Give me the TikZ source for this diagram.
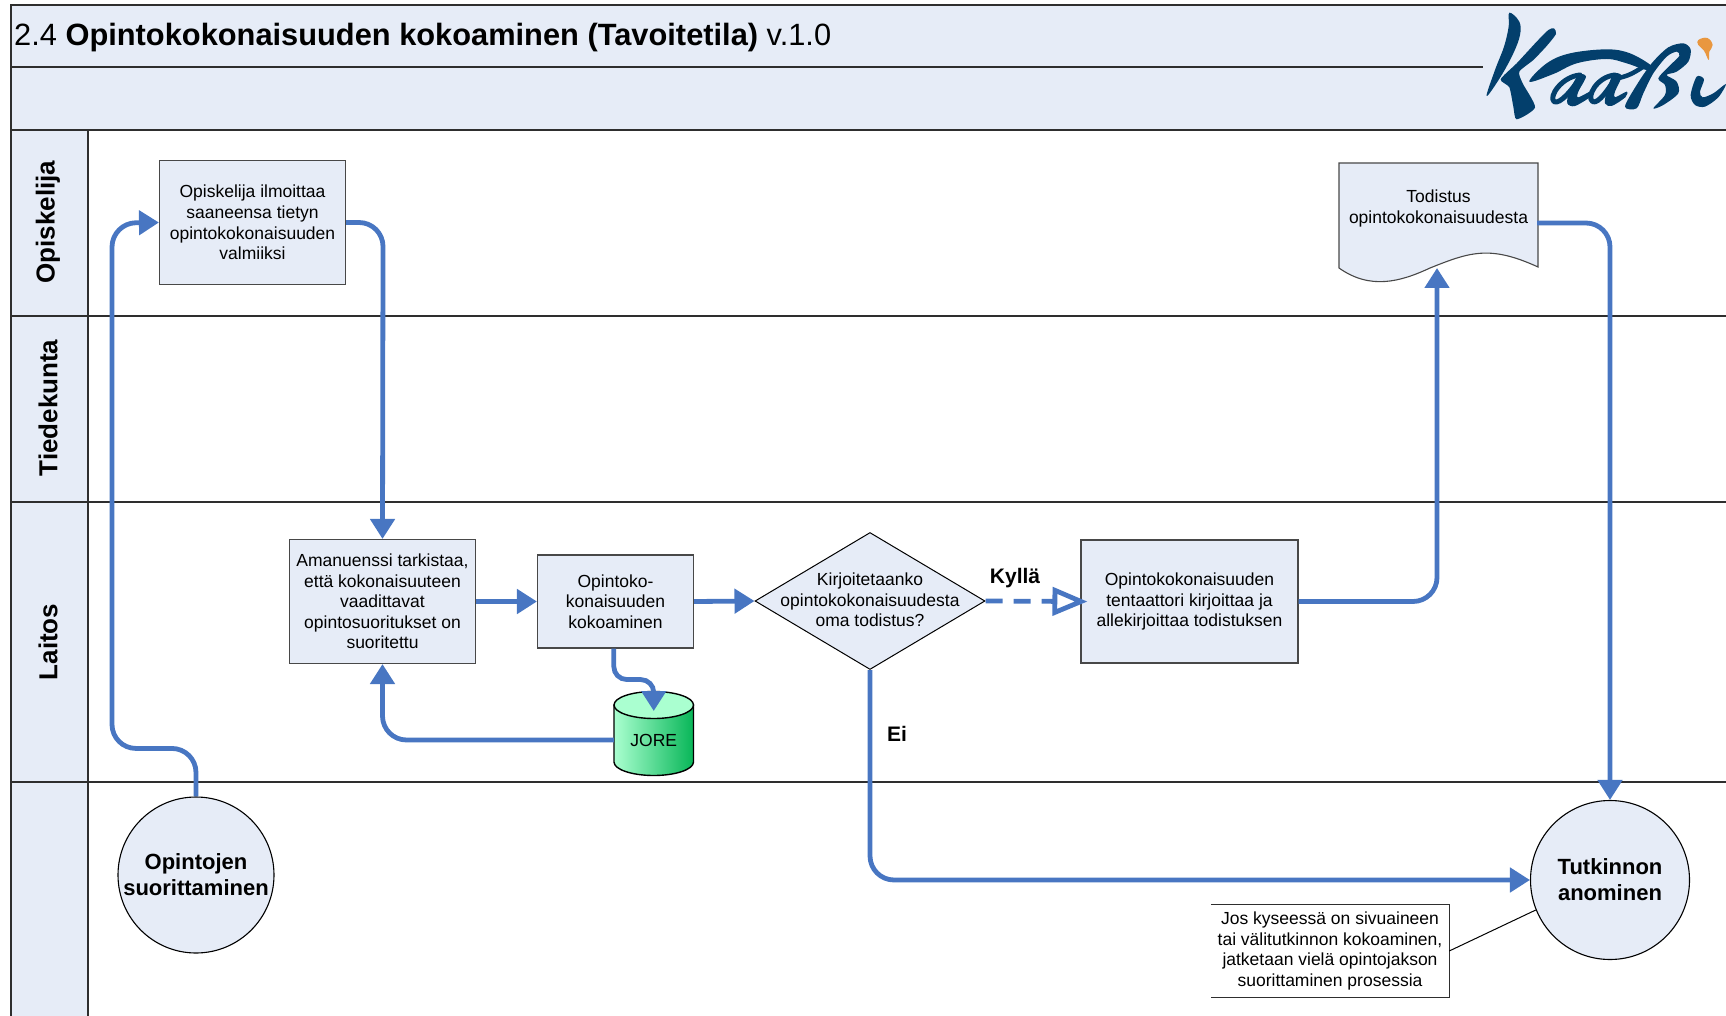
\documentclass[tikz,border=0pt]{standalone}
\usepackage{fontspec}
\setmainfont{Liberation Sans}
\usetikzlibrary{arrows.meta,shapes.geometric,calc}
\definecolor{paneFill}{HTML}{E6ECF7}
\definecolor{lineDark}{HTML}{2E2E2E}
\definecolor{boxEdge}{HTML}{484848}
\definecolor{flowBlue}{HTML}{4876C2}
\definecolor{logoBlue}{HTML}{033F6C}
\definecolor{logoOrange}{HTML}{E9973F}
\definecolor{cylLight}{HTML}{AAFFD0}
\definecolor{cylDark}{HTML}{08B658}
\tikzset{
  x=1pt,y=-1pt,
  lane/.style={draw=lineDark,line width=1.5pt},
  pane/.style={fill=paneFill,draw=none},
  procbox/.style={draw=boxEdge,fill=paneFill,line width=1.1pt,rectangle,inner sep=0pt,align=center,font=\fontsize{17.5}{20.6}\selectfont},
  plaintxt/.style={inner sep=0pt,align=center,font=\fontsize{17.5}{20.6}\selectfont},
  decision/.style={draw=black,fill=paneFill,line width=1pt,diamond,inner sep=0pt,align=center,font=\fontsize{17.5}{20.6}\selectfont},
  terminal/.style={draw=black,fill=paneFill,line width=1.1pt,circle,inner sep=0pt,minimum size=156pt,align=center,font=\fontsize{22}{26}\selectfont\bfseries},
  lanelabel/.style={rotate=90,inner sep=0pt,font=\fontsize{26}{30}\selectfont\bfseries},
  flow/.style={draw=flowBlue,line width=4.8pt,rounded corners=24pt,-{Triangle[length=20pt,width=24pt]}},
  flowtight/.style={flow,rounded corners=13pt},
  flowopen/.style={draw=flowBlue,line width=4.8pt,dash pattern=on 17pt off 11pt,shorten >=-7pt,-{Triangle[open,length=35pt,width=28pt,line width=4.8pt,sep=0pt]}},
  branchlabel/.style={inner sep=0pt,font=\fontsize{21}{25}\selectfont\bfseries},
  logostroke/.style={draw=logoBlue,line cap=round,line join=round}
}
\begin{document}
\begin{tikzpicture}
\useasboundingbox (0,0) rectangle (1726,1016);
\begin{scope}
\clip (0,0) rectangle (1726,1016);
% panes
\fill[pane] (11,5) rectangle (1726,130);
\fill[pane] (11,130) rectangle (88,1016);
% lane rules
\draw[lane] (1726,5) -- (11,5) -- (11,1016);
\draw[lane] (11,130) -- (1726,130);
\draw[lane] (11,316) -- (1726,316);
\draw[lane] (11,502) -- (1726,502);
\draw[lane] (11,782) -- (1726,782);
\draw[lane] (88,130) -- (88,1016);
\draw[draw=lineDark,line width=1.1pt] (11,67) -- (1483,67);
\end{scope}
% title
\node[anchor=base west,inner sep=0pt,font=\fontsize{30.8}{34}\selectfont] (title) at (14,46) {2.4 \textbf{Opintokokonaisuuden kokoaminen (Tavoitetila)} v.1.0};
% lane labels
\node[lanelabel] (l1) at (48,222) {Opiskelija};
\node[lanelabel] (l2) at (48,408) {Tiedekunta};
\node[lanelabel] (l3) at (48,642) {Laitos};
% logo
\begin{scope}[shift={(1480,10)},x=0.3333pt,y=-0.3333pt]
\fill[logoBlue] plot[smooth cycle,tension=0.6] coordinates {(88,8)(118,35)(120,75)(100,130)(62,200)(20,258)(45,180)(72,110)(86,50)};
\fill[logoBlue] plot[smooth cycle,tension=0.4] coordinates {(222,55)(228,72)(200,108)(160,150)(118,185)(128,220)(165,292)(110,328)(100,290)(88,232)(62,208)(110,160)(170,95)(205,60)};
\fill[logoBlue] plot[smooth cycle,tension=0.6] coordinates {(148,215)(200,160)(270,130)(380,118)(450,130)(515,168)(500,180)(440,160)(380,147)(290,160)(220,192)};
% first a
\draw[logostroke,line width=5pt] (300,195) .. controls (245,200) and (205,260) .. (222,275) .. controls (240,285) and (280,235) .. (302,200);
\fill[logoBlue] plot[smooth cycle,tension=0.5] coordinates {(295,195)(318,200)(295,245)(295,262)(340,240)(335,258)(285,288)(262,280)(268,245)};
% second a
\draw[logostroke,line width=5pt] (405,195) .. controls (350,200) and (318,262) .. (338,275) .. controls (355,283) and (388,235) .. (408,200);
\fill[logoBlue] plot[smooth cycle,tension=0.5] coordinates {(400,192)(425,198)(405,245)(405,262)(440,245)(436,262)(395,288)(375,280)(380,245)};
\draw[logostroke,line width=4.5pt] (410,205) .. controls (440,200) and (460,190) .. (490,170);
% r
\fill[logoBlue] plot[smooth cycle,tension=0.5] coordinates {(435,290)(470,225)(515,160)(565,112)(610,100)(632,118)(625,155)(590,185)(560,195)(590,215)(595,250)(550,285)(520,295)(555,255)(555,225)(535,205)(568,168)(598,138)(590,125)(560,140)(520,190)(490,250)(470,295)};
% i
\fill[logoBlue] plot[smooth cycle,tension=0.5] coordinates {(650,200)(672,208)(660,245)(668,262)(700,250)(738,222)(715,262)(675,290)(645,285)(632,255)};
\fill[logoOrange] plot[smooth cycle,tension=0.7] coordinates {(655,90)(682,84)(698,105)(688,125)(686,150)(672,122)(655,105)};
\end{scope}
% nodes
\node[procbox,minimum width=186pt,minimum height=124pt] (meld) at (252.5,222.5) {Opiskelija ilmoittaa\\saaneensa tietyn\\opintokokonaisuuden\\valmiiksi};
\node[procbox,minimum width=186pt,minimum height=124pt] (check) at (382.5,601.5) {Amanuenssi tarkistaa,\\että kokonaisuuteen\\vaadittavat\\opintosuoritukset on\\suoritettu};
\node[procbox,minimum width=156pt,minimum height=93pt] (build) at (615.5,601.5) {Opintoko-\\konaisuuden\\kokoaminen};
\node[decision,minimum width=230pt,minimum height=137pt,aspect=1.68] (ask) at (870,601) {};
\node[plaintxt] (asktext) at (870,600) {Kirjoitetaanko\\opintokokonaisuudesta\\oma todistus?};
\node[procbox,minimum width=217pt,minimum height=123pt] (sign) at (1189.5,601.5) {Opintokokonaisuuden\\tentaattori kirjoittaa ja\\allekirjoittaa todistuksen};
\node[terminal] (start) at (196,875) {Opintojen\\suorittaminen};
\node[terminal,minimum size=159pt] (apply) at (1610,880) {Tutkinnon\\anominen};
% JORE cylinder
\path[draw=black,line width=1.4pt,left color=cylLight,right color=cylDark] (614,705) -- (614,762) arc[start angle=180,end angle=360,x radius=39.75pt,y radius=13.5pt] -- (693.5,705) -- cycle;
\path[fill=cylLight,draw=black,line width=1.4pt] (653.75,705) ellipse[x radius=39.75pt,y radius=13.5pt];
\node[plaintxt,minimum width=79.5pt,minimum height=84pt] (jore) at (653.75,740) {JORE};
% document
\path[draw=boxEdge,fill=paneFill,line width=1.1pt] (1339,163) -- (1538,163) -- (1538,267) .. controls (1490,245) and (1470,252) .. (1430,268) .. controls (1400,282) and (1370,290) .. (1339,268) -- cycle;
\node[plaintxt,minimum width=199pt,minimum height=60pt] (cert) at (1438.5,208.5) {Todistus\\opintokokonaisuudesta};
\coordinate (certeast) at (1537,223);
\coordinate (certtip) at (1437,268);
% note
\node[plaintxt,minimum width=238pt,minimum height=92pt] (note) at (1330,951) {Jos kyseessä on sivuaineen\\tai välitutkinnon kokoaminen,\\jatketaan vielä opintojakson\\suorittaminen prosessia};
\draw[draw=lineDark,line width=1.2pt] (note.north west) -- (note.north east) -- (note.south east) -- (note.south west);
\draw[draw=black,line width=1pt] (note.east) -- (apply.202);
% connectors
\draw[flow] (start.north) -- ++(0,-48) -| (112,223) -- (meld.west);
\draw[flow] (meld.east) -- ++(37,0) -- (check.north);
\draw[flow,rounded corners=0pt] (check.east) -- (build.west);
\draw[flow,rounded corners=0pt] (build.east) -- (ask.west);
\draw[flowopen] (ask.east) -- (sign.west);
\draw[flow] (sign.east) -| (certtip);
\draw[flow] (certeast) -| (apply.north);
\draw[flow] (ask.south) |- (apply.west);
\draw[flowtight] (build.south -| jore.north west) -- ++(0,31) -| (653.75,711);
\draw[flow] (jore.west) -| (check.south);
% branch labels
\node[branchlabel] (yes) at (1015,578) {Kyllä};
\node[branchlabel] (no) at (897,734) {Ei};
\end{tikzpicture}
\end{document}
